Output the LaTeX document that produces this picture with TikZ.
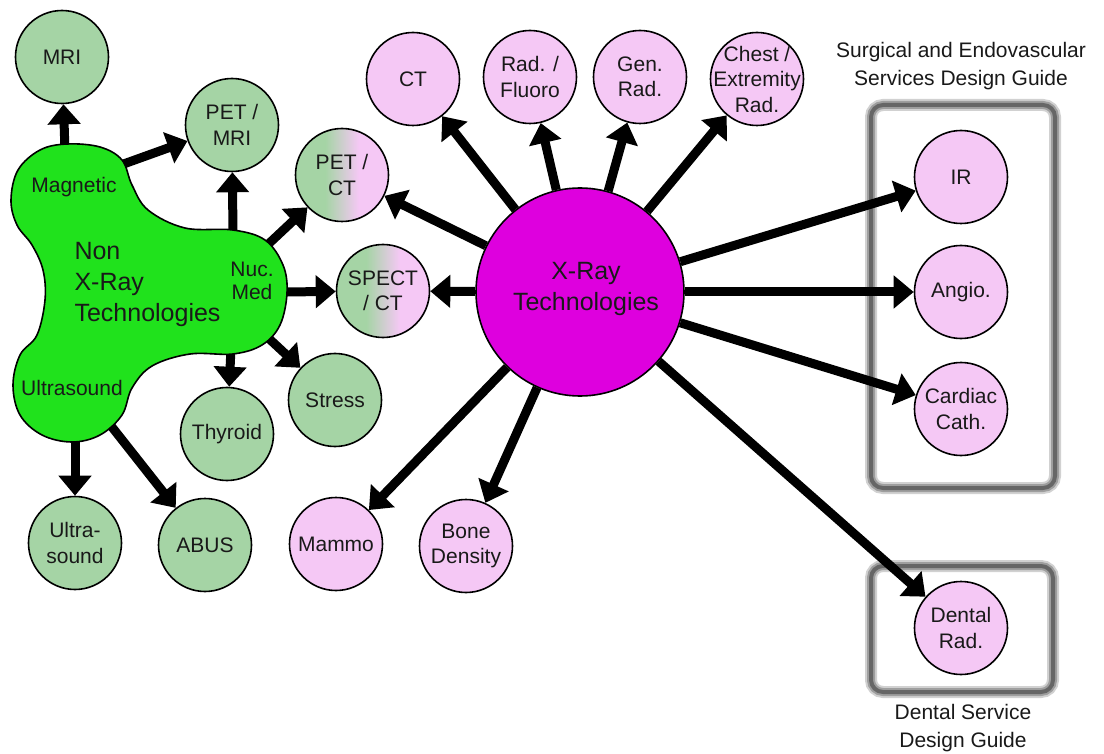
\documentclass[tikz,border=0pt]{standalone}
\usepackage{fontspec}
\setmainfont{Liberation Sans}
\usetikzlibrary{arrows.meta,shapes.geometric}
\definecolor{ngreen}{RGB}{165,212,165}
\definecolor{npink}{RGB}{245,200,245}
\definecolor{xmag}{RGB}{222,0,222}
\definecolor{bgreen}{RGB}{32,226,28}
\definecolor{txt}{RGB}{25,25,25}
\pgfdeclarehorizontalshading{gpshade}{100bp}{color(0bp)=(ngreen); color(41bp)=(ngreen); color(59bp)=(npink); color(100bp)=(npink)}
\begin{document}
\begin{tikzpicture}[x=1pt,y=-1pt,
  base/.style={circle, draw=black, line width=1.6pt, minimum size=93pt, inner sep=0pt},
  gnode/.style={base, fill=ngreen},
  pnode/.style={base, fill=npink},
  mnode/.style={base, shading=gpshade},
  every label/.style={align=center, text=txt, font=\fontsize{21}{25.5}\selectfont, inner sep=0pt},
  conn/.style={line width=9pt, -{Triangle[length=20pt,width=32pt]}},
  guide/.style={text=txt, font=\fontsize{21}{28}\selectfont, align=center},
  big/.style={text=txt, font=\fontsize{25}{30.5}\selectfont, align=center},
  small/.style={text=txt, font=\fontsize{21}{23.5}\selectfont, align=center, inner sep=0pt},
  guidebox/.style={rounded corners=12pt, draw=black!18, line width=12pt,
    postaction={draw=black!38, line width=8pt},
    postaction={draw=black!60, line width=4pt}},
]
\useasboundingbox (0,0) rectangle (1104,754);

% guide boxes
\path[guidebox] (871,105) rectangle (1055,488);
\path[guidebox] (871,566) rectangle (1053,692);
\node[guide] (sglabel) at (961,66) {Surgical and Endovascular\\Services Design Guide};
\node[guide] (dglabel) at (963,728) {Dental Service\\Design Guide};

% nodes
\node[gnode, label={center:MRI}] (mri) at (62,57) {};
\node[gnode, label={center:PET /\\MRI}] (petmri) at (232,125) {};
\node[mnode, label={center:PET /\\CT}] (petct) at (342,175) {};
\node[mnode, label={center:SPECT\\/ CT}] (spect) at (383,291) {};
\node[gnode, label={center:Stress}] (stress) at (335,400) {};
\node[gnode, label={center:Thyroid}] (thyroid) at (227,434) {};
\node[gnode, label={center:Ultra-\\sound}] (ultra) at (75,543) {};
\node[gnode, label={center:ABUS}] (abus) at (205,545) {};
\node[pnode, label={center:CT}] (ct) at (413,79) {};
\node[pnode, label={center:Rad. /\\Fluoro}] (fluoro) at (530,77) {};
\node[pnode, label={center:Gen.\\Rad.}] (genrad) at (640,77) {};
\node[pnode, label={center:Chest /\\Extremity\\Rad.}] (chest) at (757,79) {};
\node[pnode, label={center:Mammo}] (mammo) at (336,544) {};
\node[pnode, label={center:Bone\\Density}] (bone) at (466,546) {};
\node[pnode, label={center:IR}] (ir) at (961,177) {};
\node[pnode, label={center:Angio.}] (angio) at (961,292) {};
\node[pnode, label={center:Cardiac\\Cath.}] (cath) at (961,409) {};
\node[pnode, label={center:Dental\\Rad.}] (dental) at (961,628) {};
\node[base, fill=xmag, minimum size=208pt,
  label={[big, xshift=6pt, yshift=3pt]center:X-Ray\\Technologies}] (xray) at (580,292) {};

% blob arrow start points
\coordinate (bm1) at (65,152);
\coordinate (bm2) at (118,166);
\coordinate (bn1) at (233,238);
\coordinate (bn2) at (262,250);
\coordinate (bn3) at (280,292);
\coordinate (bn4) at (264,334);
\coordinate (bn5) at (231,348);
\coordinate (bu1) at (75,434);
\coordinate (bu2) at (108,422);

% connectors from x-ray
\foreach \t in {ct,fluoro,genrad,chest,petct,spect,ir,angio,cath,dental,mammo,bone}
  \draw[conn] (xray) -- (\t);

% connectors from the blob
\draw[conn] (bm1) -- (mri);
\draw[conn] (bm2) -- (petmri);
\draw[conn] (bn1) -- (petmri);
\draw[conn] (bn2) -- (petct);
\draw[conn] (bn3) -- (spect);
\draw[conn] (bn4) -- (stress);
\draw[conn] (bn5) -- (thyroid);
\draw[conn] (bu1) -- (ultra);
\draw[conn] (bu2) -- (abus);

% non x-ray blob
\draw[line width=1.6pt, fill=bgreen] plot[smooth cycle, tension=0.6] coordinates {
 (40,150) (67,144) (100,147) (122,160) (132,185) (148,210) (185,228) (233,230)
 (265,240) (283,265) (287,293) (280,325) (262,345) (233,354) (190,354) (152,366)
 (132,388) (122,415) (100,435) (72,442) (42,435) (20,415) (13,385) (20,355)
 (37,335) (45,300) (43,270) (32,245) (17,225) (11,200) (18,170)};

\node[small] (magl) at (74,187) {Magnetic};
\node[small] (ultl) at (72,388) {Ultrasound};
\node[small] (nucl) at (252,281) {Nuc.\\Med};
\node[big, align=left, anchor=west, font=\fontsize{25}{31}\selectfont] (nonl) at (71,284) {Non\\X-Ray\\Technologies};
\end{tikzpicture}
\end{document}
